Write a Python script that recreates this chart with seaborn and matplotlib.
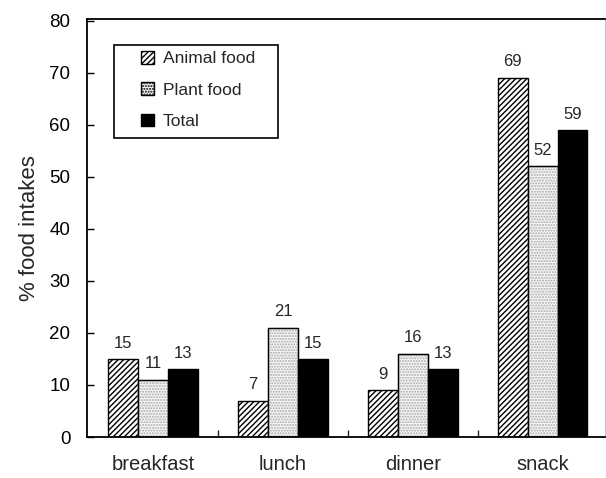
import matplotlib
matplotlib.use("Agg")
import matplotlib.pyplot as plt
from matplotlib.patches import Rectangle, Patch
import seaborn as sns
import pandas as pd

meals = ["breakfast", "lunch", "dinner", "snack"]
series = ["Animal food", "Plant food", "Total"]
animal = [15, 7, 9, 69]
plant = [11, 21, 16, 52]
total = [13, 15, 13, 59]
yticks = [0, 10, 20, 30, 40, 50, 60, 70, 80]

sns.set_theme(style="white")
plt.rcParams["font.family"] = ["Liberation Sans", "DejaVu Sans"]
plt.rcParams["hatch.linewidth"] = 1.0

df = pd.DataFrame({
    "meal": meals * 3,
    "group": [s for s in series for _ in meals],
    "value": animal + plant + total,
})

fig = plt.figure(figsize=(6.06, 4.78), dpi=100)
ax = fig.add_axes([87 / 606, 41 / 478, 518 / 606, 418 / 478])

sns.barplot(data=df, x="meal", y="value", hue="group", order=meals,
            hue_order=series, width=0.69, gap=0, ax=ax, legend=False,
            palette=["white", "#f2f2f2", "black"], saturation=1,
            edgecolor="black", linewidth=1.0)

styles = {
    "Animal food": dict(fc="white", ec="black", hatch="//////"),
    "Plant food": dict(fc="#f7f7f7", ec="#a8a8a8", hatch="......"),
    "Total": dict(fc="black", ec="black", hatch=None),
}

for cont, name in zip(ax.containers, series):
    st = styles[name]
    for bar in cont:
        bar.set_facecolor(st["fc"])
        bar.set_edgecolor(st["ec"])
        if st["hatch"]:
            bar.set_hatch(st["hatch"])
        if name == "Plant food":
            ax.add_patch(Rectangle(bar.get_xy(), bar.get_width(), bar.get_height(),
                                   fill=False, ec="black", lw=1.0, zorder=3))
    ax.bar_label(cont, labels=[f"{v:g}" for v in cont.datavalues],
                 padding=6, fontsize=12)

ax.set_xlim(-0.51, 3.48)
ax.set_ylim(0, 80.3)
ax.set_yticks(yticks)
ax.set_xlabel("")
ax.set_ylabel("% food intakes", fontsize=16, labelpad=7)

ax.tick_params(axis="y", direction="in", length=5, width=1, pad=12,
               labelsize=13.5, left=True, colors="black")
ax.tick_params(axis="x", which="major", length=0, pad=13, labelsize=14.5)
ax.set_xticks([0.5, 1.5, 2.5], minor=True)
ax.tick_params(axis="x", which="minor", direction="in", length=5, width=1,
               bottom=True)

for side in ["left", "bottom", "top"]:
    ax.spines[side].set_color("black")
    ax.spines[side].set_linewidth(1.3)
ax.spines["right"].set_color("#c8c8c8")
ax.spines["right"].set_linewidth(0.8)

# legend box with its own frame
frame = Rectangle((27 / 518, (437 - 138) / 418), 164 / 518, 93 / 418,
                  transform=ax.transAxes, fill=True, fc="white", ec="black",
                  lw=1.2, zorder=4)
ax.add_patch(frame)
handles = [Patch(facecolor=styles[s]["fc"], edgecolor="black",
                 hatch=styles[s]["hatch"], label=s) for s in series]
leg = ax.legend(handles=handles, loc="upper left",
                bbox_to_anchor=(54 / 518, (437 - 51) / 418),
                borderaxespad=0, frameon=False, fontsize=12.5,
                handlelength=0.75, handleheight=0.75, handletextpad=0.5,
                labelspacing=0.92, borderpad=0)
leg.set_zorder(5)

fig.savefig("out.png", dpi=100)
